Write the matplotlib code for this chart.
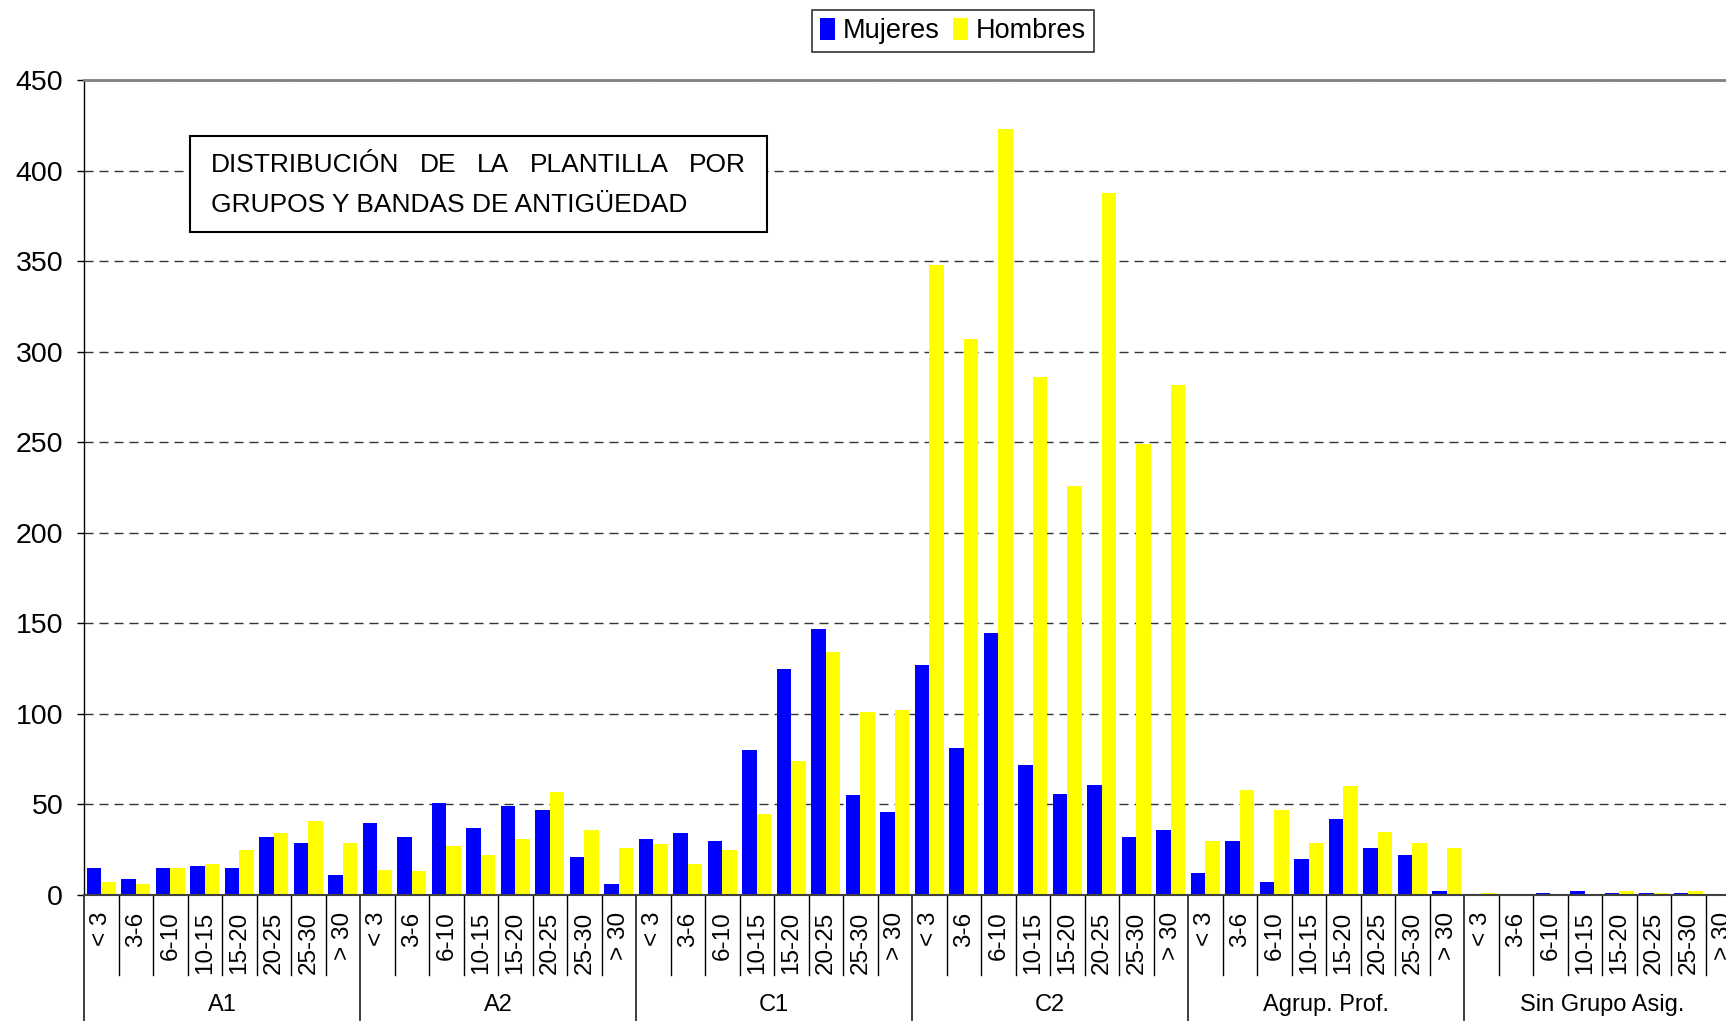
import numpy as np
import matplotlib
matplotlib.use("Agg")
import matplotlib.pyplot as plt
from matplotlib.lines import Line2D
from matplotlib.patches import Rectangle

plt.rcParams['font.family'] = ['Liberation Sans', 'DejaVu Sans']

groups = ["A1", "A2", "C1", "C2", "Agrup. Prof.", "Sin Grupo Asig."]
bands = ["< 3", "3-6", "6-10", "10-15", "15-20", "20-25", "25-30", "> 30"]

mujeres_A1 = [15, 9, 15, 16, 15, 32, 29, 11]
hombres_A1 = [7, 6, 15, 17, 25, 34, 41, 29]
mujeres_A2 = [40, 32, 51, 37, 49, 47, 21, 6]
hombres_A2 = [14, 13, 27, 22, 31, 57, 36, 26]
mujeres_C1 = [31, 34, 30, 80, 125, 147, 55, 46]
hombres_C1 = [28, 17, 25, 45, 74, 134, 101, 102]
mujeres_C2 = [127, 81, 145, 72, 56, 61, 32, 36]
hombres_C2 = [348, 307, 423, 286, 226, 388, 249, 282]
mujeres_AP = [12, 30, 7, 20, 42, 26, 22, 2]
hombres_AP = [30, 58, 47, 29, 60, 35, 29, 26]
mujeres_SG = [0, 0, 1, 2, 1, 1, 1, 0]
hombres_SG = [1, 0, 0, 0, 2, 1, 2, 0]

mujeres = mujeres_A1 + mujeres_A2 + mujeres_C1 + mujeres_C2 + mujeres_AP + mujeres_SG
hombres = hombres_A1 + hombres_A2 + hombres_C1 + hombres_C2 + hombres_AP + hombres_SG
labels = bands * len(groups)

W, H = 1726, 1021
fig = plt.figure(figsize=(W / 100, H / 100), dpi=100)
ax_left, ax_bottom = 84 / W, (H - 895) / H
ax_w, ax_h = 1656 / W, 814.6 / H
ax = fig.add_axes([ax_left, ax_bottom, ax_w, ax_h])

n = len(mujeres)
x = np.arange(n)
bw = 0.4167
ax.bar(x + 0.5 - bw / 2, mujeres, width=bw, color='#0000FF', zorder=2, label='Mujeres')
ax.bar(x + 0.5 + bw / 2, hombres, width=bw, color='#FFFF00', zorder=2, label='Hombres')

ax.set_xlim(0, n)
ax.set_ylim(0, 450)
ax.set_yticks(np.arange(0, 451, 50))
ax.yaxis.grid(True, color='#333333', linewidth=1.0, linestyle=(0, (6.5, 4.3)))
ax.set_axisbelow(True)
ax.tick_params(axis='y', labelsize=20.5, length=5, width=1, pad=10, direction='out')

ax.set_xticks(x + 0.5)
ax.set_xticklabels(labels, rotation=90, fontsize=17.5)
ax.tick_params(axis='x', length=0, pad=12)

ax.spines['left'].set_color('black')
ax.spines['left'].set_linewidth(1.0)
ax.spines['bottom'].set_color('#404040')
ax.spines['bottom'].set_linewidth(1.5)
ax.spines['top'].set_color('#808080')
ax.spines['top'].set_linewidth(2.0)
ax.spines['right'].set_color('#808080')

# separators below axis
cat_depth = (975 - 895) / 814.6
grp_depth = (1030 - 895) / 814.6
for i in range(n + 1):
    if i % 8 == 0:
        ax.add_line(Line2D([i, i], [0, -grp_depth], color='#303030', linewidth=1.3,
                           transform=ax.get_xaxis_transform(), clip_on=False))
    else:
        ax.add_line(Line2D([i, i], [0, -cat_depth], color='black', linewidth=1.0,
                           transform=ax.get_xaxis_transform(), clip_on=False))

grp_y = -(1005 - 895) / 814.6
for gi, g in enumerate(groups):
    ax.text(gi * 8 + 4, grp_y, g, transform=ax.get_xaxis_transform(),
            ha='center', va='center', fontsize=17)

# legend
fig.legend(loc='upper center', bbox_to_anchor=(953 / W, 1 - 10 / H), ncol=2,
           fontsize=19.5, frameon=True, fancybox=False, edgecolor='black',
           handlelength=0.55, handleheight=0.85, handletextpad=0.3,
           columnspacing=0.5, borderpad=0.3, borderaxespad=0)
leg = fig.legends[0]
leg.get_frame().set_linewidth(1.2)

# title box
box = Rectangle((190.4 / W, 1 - 232 / H), (767.3 - 190.4) / W, (232 - 136.5) / H,
                transform=fig.transFigure, facecolor='white', edgecolor='black',
                linewidth=1.5, zorder=5)
fig.patches.append(box)

renderer = fig.canvas.get_renderer()
words = ["DISTRIBUCIÓN", "DE", "LA", "PLANTILLA", "POR"]
x0_px, x1_px = 211, 746
texts = [fig.text(0, 1 - 172 / H, w, fontsize=19, ha='left', va='baseline', zorder=6)
         for w in words]
widths = [t.get_window_extent(renderer).width for t in texts]
gap = (x1_px - x0_px - sum(widths)) / (len(words) - 1)
cur = x0_px
for t, wdt in zip(texts, widths):
    t.set_x(cur / W)
    cur += wdt + gap
fig.text(x0_px / W, 1 - 212 / H, "GRUPOS Y BANDAS DE ANTIGÜEDAD", fontsize=19,
         ha='left', va='baseline', zorder=6)

fig.savefig('out.png', dpi=100)
